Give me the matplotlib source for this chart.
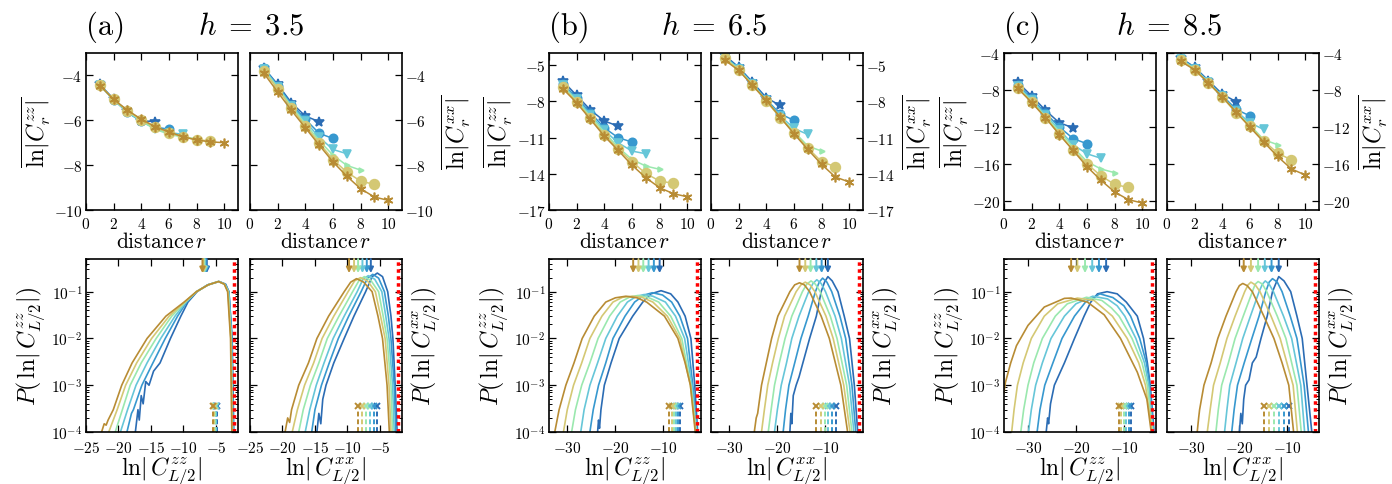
import matplotlib
matplotlib.use("Agg")
import matplotlib.pyplot as plt

plt.rcParams['font.family'] = 'serif'
plt.rcParams['font.serif'] = ['cmr10']
plt.rcParams['mathtext.fontset'] = 'cm'
plt.rcParams['axes.formatter.use_mathtext'] = True

# system sizes L = 10, 12, ..., 20
sizes = [10, 12, 14, 16, 18, 20]
colors = ['#2b6cb4', '#3798cf', '#66c6d8', '#9ae8ae', '#d4c874', '#b88c34']
markers = ['*', 'o', 'v', '>', 'o', (6, 2, 0)]
msizes = [7, 6, 6, 3.5, 7, 7]
distances = [1, 2, 3, 4, 5, 6, 7, 8, 9, 10]
fields = ['3.5', '6.5', '8.5']

# ---- mean log correlations vs distance r (top row) ----
zz_a = [[-4.40, -5.05, -5.60, -6.02, -6.06],
        [-4.42, -5.08, -5.65, -6.05, -6.30, -6.40],
        [-4.43, -5.10, -5.63, -6.05, -6.38, -6.55, -6.62],
        [-4.43, -5.08, -5.60, -6.02, -6.40, -6.62, -6.75, -6.82],
        [-4.43, -5.07, -5.58, -5.98, -6.32, -6.55, -6.73, -6.87, -6.92],
        [-4.45, -5.07, -5.55, -5.95, -6.28, -6.52, -6.73, -6.88, -6.96, -7.00]]
xx_a = [[-3.66, -4.40, -5.22, -5.81, -6.06],
        [-3.66, -4.45, -5.30, -5.95, -6.58, -6.81],
        [-3.70, -4.50, -5.35, -6.05, -6.75, -7.30, -7.49],
        [-3.75, -4.55, -5.40, -6.15, -6.90, -7.55, -8.01, -8.22],
        [-3.80, -4.60, -5.45, -6.25, -7.00, -7.75, -8.31, -8.71, -8.86],
        [-3.90, -4.74, -5.56, -6.33, -7.10, -7.85, -8.49, -9.05, -9.42, -9.57]]
zz_b = [[-6.32, -7.51, -8.72, -9.63, -10.05],
        [-6.54, -7.70, -8.94, -10.19, -11.01, -11.37],
        [-6.65, -7.85, -9.10, -10.40, -11.43, -12.12, -12.34],
        [-6.75, -7.95, -9.25, -10.55, -11.80, -12.81, -13.36, -13.63],
        [-6.85, -8.05, -9.40, -10.75, -11.95, -13.00, -13.97, -14.60, -14.79],
        [-6.96, -8.12, -9.50, -10.88, -12.06, -13.28, -14.32, -15.15, -15.65, -15.90]]
xx_b = [[-4.20, -5.17, -6.41, -7.70, -8.34],
        [-4.30, -5.25, -6.50, -7.85, -9.03, -9.58],
        [-4.35, -5.30, -6.55, -7.90, -9.20, -10.24, -10.74],
        [-4.40, -5.35, -6.60, -7.95, -9.30, -10.50, -11.70, -12.12],
        [-4.45, -5.40, -6.65, -7.98, -9.35, -10.60, -11.85, -13.00, -13.41],
        [-4.59, -5.44, -6.68, -7.92, -9.30, -10.68, -11.98, -13.22, -14.27, -14.68]]
zz_c = [[-7.18, -8.64, -10.20, -11.55, -12.10],
        [-7.43, -8.90, -10.50, -12.00, -13.27, -13.82],
        [-7.60, -9.05, -10.70, -12.30, -13.93, -14.91, -15.39],
        [-7.70, -9.20, -10.85, -12.50, -14.20, -15.75, -16.55, -16.96],
        [-7.80, -9.30, -11.00, -12.75, -14.50, -16.00, -17.28, -18.23, -18.56],
        [-7.83, -9.36, -11.00, -12.83, -14.55, -16.30, -17.76, -19.04, -19.88, -20.24]]
xx_c = [[-4.55, -5.53, -6.99, -8.45, -9.26],
        [-4.60, -5.60, -7.10, -8.60, -10.09, -10.82],
        [-4.65, -5.70, -7.15, -8.70, -10.30, -11.55, -12.28],
        [-4.70, -5.75, -7.20, -8.75, -10.40, -11.80, -13.38, -13.93],
        [-4.75, -5.80, -7.25, -8.80, -10.45, -11.95, -13.50, -14.84, -15.57],
        [-4.91, -5.82, -7.25, -8.74, -10.39, -12.03, -13.64, -15.20, -16.55, -17.21]]

# ---- distributions P(ln|C_{L/2}|) (bottom row) ----
pzz_a_x = [[-17.4, -17.0, -16.8, -16.5, -16.2, -15.8, -15.3, -14.6, -13.6, -12.0, -10.4, -9.3, -7.9, -6.3, -4.5, -3.5, -3.0, -2.5, -2.25],
           [-18.7, -18.0, -17.7, -16.4, -14.7, -12.8, -10.9, -9.5, -8.0, -6.2, -4.6, -3.6, -3.0, -2.55, -2.35],
           [-19.7, -18.6, -17.3, -15.6, -13.5, -11.3, -9.6, -8.0, -6.2, -4.6, -3.6, -3.05, -2.6, -2.4],
           [-20.5, -19.4, -18.2, -16.5, -14.2, -11.8, -9.7, -8.0, -6.2, -4.6, -3.7, -3.1, -2.65, -2.45],
           [-21.5, -20.2, -18.9, -17.2, -14.9, -12.2, -9.8, -8.0, -6.2, -4.6, -3.7, -3.15, -2.7, -2.5],
           [-22.6, -22.2, -21.9, -21.6, -20.8, -19.5, -17.9, -15.6, -12.7, -9.9, -8.0, -6.2, -4.6, -3.7, -3.2, -2.75, -2.55]]
pzz_a_p = [[1e-4, 3e-4, 1.8e-4, 6e-4, 4e-4, 1.2e-3, 1e-3, 2e-3, 3e-3, 1e-2, 3e-2, 6e-2, 0.1, 0.14, 0.165, 0.145, 0.1, 1e-2, 1e-4],
           [1e-4, 2.5e-4, 3e-4, 1e-3, 3e-3, 1e-2, 3e-2, 6e-2, 0.1, 0.14, 0.165, 0.145, 0.1, 1e-2, 1e-4],
           [1e-4, 3e-4, 1e-3, 3e-3, 1e-2, 3e-2, 6e-2, 0.1, 0.14, 0.165, 0.145, 0.1, 1e-2, 1e-4],
           [1e-4, 3e-4, 1e-3, 3e-3, 1e-2, 3e-2, 6e-2, 0.1, 0.14, 0.165, 0.145, 0.1, 1e-2, 1e-4],
           [1e-4, 3e-4, 1e-3, 3e-3, 1e-2, 3e-2, 6e-2, 0.1, 0.14, 0.165, 0.145, 0.1, 1e-2, 1e-4],
           [1e-4, 1.5e-4, 1.4e-4, 1.8e-4, 3e-4, 1e-3, 3e-3, 1e-2, 3e-2, 6e-2, 0.1, 0.14, 0.165, 0.145, 0.1, 1e-2, 1e-4]]

pxx_a_x = [[-14.7, -14.4, -14.1, -13.8, -13.3, -12.1, -10.5, -9.0, -7.2, -6.2, -5.4, -4.6, -3.8, -3.3, -3.0, -2.65, -2.35],
           [-15.5, -15.0, -14.0, -12.8, -11.4, -9.8, -7.9, -6.9, -6.1, -5.2, -4.3, -3.7, -3.3, -2.8, -2.55],
           [-16.5, -15.8, -14.8, -13.6, -12.2, -10.5, -8.5, -7.6, -6.8, -5.8, -4.7, -4.1, -3.6, -3.05, -2.8],
           [-17.5, -16.8, -15.7, -14.4, -13.1, -11.3, -9.2, -8.2, -7.4, -6.4, -5.2, -4.5, -3.9, -3.3, -3.05],
           [-18.5, -17.7, -16.6, -15.2, -13.9, -12.1, -9.9, -8.9, -8.0, -6.9, -5.7, -4.9, -4.2, -3.6, -3.3],
           [-19.6, -19.2, -18.9, -18.6, -17.5, -16.0, -14.7, -12.9, -10.5, -9.5, -8.6, -7.5, -6.2, -5.3, -4.6, -3.9, -3.55]]
pxx_a_p = [[1e-4, 2.5e-4, 1.5e-4, 5e-4, 1e-3, 3e-3, 1e-2, 3e-2, 0.1, 0.21, 0.25, 0.21, 0.1, 3e-2, 1e-2, 1e-3, 1e-4],
           [1e-4, 3e-4, 1e-3, 3e-3, 1e-2, 3e-2, 0.1, 0.195, 0.235, 0.195, 0.1, 3e-2, 1e-2, 1e-3, 1e-4],
           [1e-4, 3e-4, 1e-3, 3e-3, 1e-2, 3e-2, 0.1, 0.185, 0.22, 0.185, 0.1, 3e-2, 1e-2, 1e-3, 1e-4],
           [1e-4, 3e-4, 1e-3, 3e-3, 1e-2, 3e-2, 0.1, 0.175, 0.21, 0.175, 0.1, 3e-2, 1e-2, 1e-3, 1e-4],
           [1e-4, 3e-4, 1e-3, 3e-3, 1e-2, 3e-2, 0.1, 0.17, 0.20, 0.17, 0.1, 3e-2, 1e-2, 1e-3, 1e-4],
           [1e-4, 2e-4, 1.6e-4, 3e-4, 1e-3, 3e-3, 1e-2, 3e-2, 0.1, 0.16, 0.19, 0.16, 0.1, 3e-2, 1e-2, 1e-3, 1e-4]]

pzz_b_x = [[-23.7, -23.5, -23.3, -23.0, -22.3, -20.9, -19.2, -16.4, -14.3, -12.6, -10.5, -8.5, -7.0, -5.5, -4.3, -3.5, -2.9],
           [-25.3, -24.6, -23.5, -22.0, -20.5, -18.0, -16.0, -14.0, -12.3, -10.2, -8.3, -6.6, -5.0, -3.9, -3.0],
           [-27.2, -26.5, -25.3, -23.7, -22.0, -19.6, -17.5, -15.6, -14.0, -12.2, -9.6, -7.5, -5.6, -4.1, -3.1],
           [-29.1, -28.3, -27.0, -25.3, -23.6, -21.2, -19.0, -17.0, -15.3, -13.4, -11.0, -8.5, -6.2, -4.3, -3.2],
           [-30.8, -30.0, -28.7, -27.0, -25.3, -22.8, -20.5, -18.5, -16.5, -14.5, -12.2, -9.2, -6.6, -4.4, -3.3],
           [-32.6, -31.7, -30.3, -28.6, -26.9, -24.4, -22.0, -20.0, -17.8, -15.5, -13.5, -9.8, -7.0, -5.5, -4.4, -3.4]]
pzz_b_p = [[1e-4, 1.8e-4, 1.2e-4, 3e-4, 1e-3, 3e-3, 1e-2, 3e-2, 6e-2, 9e-2, 0.105, 9e-2, 6e-2, 3e-2, 1e-2, 1e-3, 1e-4],
           [1e-4, 3e-4, 1e-3, 3e-3, 1e-2, 3e-2, 6e-2, 8.5e-2, 9.5e-2, 8.5e-2, 6e-2, 3e-2, 1e-2, 1e-3, 1e-4],
           [1e-4, 3e-4, 1e-3, 3e-3, 1e-2, 3e-2, 6e-2, 8e-2, 8.7e-2, 8e-2, 6e-2, 3e-2, 1e-2, 1e-3, 1e-4],
           [1e-4, 3e-4, 1e-3, 3e-3, 1e-2, 3e-2, 6e-2, 7.7e-2, 8.3e-2, 7.7e-2, 6e-2, 3e-2, 1e-2, 1e-3, 1e-4],
           [1e-4, 3e-4, 1e-3, 3e-3, 1e-2, 3e-2, 6e-2, 7.6e-2, 8e-2, 7.6e-2, 6e-2, 3e-2, 1e-2, 1e-3, 1e-4],
           [1e-4, 3e-4, 1e-3, 3e-3, 1e-2, 3e-2, 6e-2, 7.4e-2, 8e-2, 7.4e-2, 6e-2, 3e-2, 1e-2, 3e-3, 1e-3, 1e-4]]

pxx_b_x = [[-17.4, -17.2, -17.0, -16.7, -16.1, -15.5, -14.7, -13.3, -11.9, -10.9, -10.2, -9.5, -8.6, -7.4, -6.1, -5.0, -4.0, -3.3],
           [-18.8, -18.3, -17.6, -16.4, -15.1, -13.6, -12.1, -11.3, -10.6, -9.7, -8.7, -7.0, -5.8, -4.5, -3.7],
           [-20.6, -20.0, -19.2, -18.1, -17.0, -15.5, -13.5, -12.6, -11.8, -10.9, -10.0, -8.0, -6.7, -5.0, -4.1],
           [-21.9, -21.3, -20.6, -19.6, -18.4, -17.0, -14.8, -13.9, -13.0, -12.1, -11.1, -9.0, -7.6, -5.6, -4.5],
           [-23.3, -22.7, -22.0, -21.0, -19.8, -18.5, -16.1, -15.1, -14.2, -13.2, -12.2, -9.9, -8.4, -6.2, -4.9],
           [-24.8, -24.4, -24.1, -23.3, -22.3, -21.2, -19.9, -17.4, -16.4, -15.4, -14.4, -13.3, -10.9, -9.2, -6.8, -5.4]]
pxx_b_p = [[1e-4, 2.5e-4, 1.5e-4, 6e-4, 1e-3, 1.5e-3, 3e-3, 1e-2, 3e-2, 0.1, 0.16, 0.21, 0.17, 0.1, 3e-2, 1e-2, 1e-3, 1e-4],
           [1e-4, 3e-4, 1e-3, 3e-3, 1e-2, 3e-2, 0.1, 0.16, 0.195, 0.16, 0.1, 3e-2, 1e-2, 1e-3, 1e-4],
           [1e-4, 3e-4, 1e-3, 3e-3, 1e-2, 3e-2, 0.1, 0.15, 0.18, 0.15, 0.1, 3e-2, 1e-2, 1e-3, 1e-4],
           [1e-4, 3e-4, 1e-3, 3e-3, 1e-2, 3e-2, 0.1, 0.145, 0.17, 0.145, 0.1, 3e-2, 1e-2, 1e-3, 1e-4],
           [1e-4, 3e-4, 1e-3, 3e-3, 1e-2, 3e-2, 0.1, 0.14, 0.16, 0.14, 0.1, 3e-2, 1e-2, 1e-3, 1e-4],
           [1e-4, 2e-4, 2.5e-4, 1e-3, 3e-3, 1e-2, 3e-2, 0.1, 0.14, 0.155, 0.14, 0.1, 3e-2, 1e-2, 1e-3, 1e-4]]

pzz_c_x = [[-26.2, -25.9, -25.7, -25.3, -24.5, -22.4, -20.3, -18.3, -16.9, -15.5, -13.5, -11.4, -9.5, -7.2, -5.9, -5.1, -4.5, -3.7],
           [-28.1, -27.5, -26.5, -24.8, -22.9, -20.3, -18.0, -15.0, -12.3, -10.0, -8.6, -6.7, -5.3, -4.6, -3.8],
           [-29.9, -29.3, -28.4, -27.0, -25.2, -22.4, -20.0, -16.5, -13.4, -11.4, -9.8, -7.5, -5.7, -4.8, -3.9],
           [-31.5, -30.9, -30.0, -28.8, -27.0, -24.3, -21.8, -17.8, -14.6, -12.6, -11.0, -8.3, -6.2, -5.1, -4.0],
           [-33.4, -32.9, -32.2, -31.0, -29.3, -26.6, -23.8, -19.7, -16.2, -12.4, -9.3, -6.9, -5.5, -4.1],
           [-35.0, -34.7, -33.6, -32.4, -30.0, -26.6, -22.4, -21.0, -17.6, -14.1, -10.7, -7.2, -5.2, -4.3]]
pzz_c_p = [[1e-4, 2e-4, 1.5e-4, 4e-4, 1e-3, 3e-3, 1e-2, 3e-2, 6e-2, 9e-2, 0.1, 9e-2, 6e-2, 3e-2, 1e-2, 3e-3, 1e-3, 1e-4],
           [1e-4, 3e-4, 1e-3, 3e-3, 1e-2, 3e-2, 6e-2, 9e-2, 7.5e-2, 5e-2, 3e-2, 1e-2, 3e-3, 1e-3, 1e-4],
           [1e-4, 3e-4, 1e-3, 3e-3, 1e-2, 3e-2, 5.5e-2, 8e-2, 7e-2, 5e-2, 3e-2, 1e-2, 3e-3, 1e-3, 1e-4],
           [1e-4, 3e-4, 1e-3, 3e-3, 1e-2, 3e-2, 5.5e-2, 7.6e-2, 6.5e-2, 4.5e-2, 3e-2, 1e-2, 3e-3, 1e-3, 1e-4],
           [1e-4, 3e-4, 1e-3, 3e-3, 1e-2, 3e-2, 5.5e-2, 7.3e-2, 6.5e-2, 3e-2, 1e-2, 3e-3, 1e-3, 1e-4],
           [7e-4, 1.15e-3, 3e-3, 7e-3, 1.9e-2, 4.7e-2, 7.2e-2, 7.3e-2, 6e-2, 3.2e-2, 1e-2, 1.9e-3, 5e-4, 1e-4]]

pxx_c_x = [[-19.9, -19.6, -19.3, -19.0, -18.6, -17.9, -17.2, -16.4, -15.4, -14.1, -13.0, -12.3, -11.7, -10.6, -9.2, -7.9, -6.8, -5.8, -4.8],
           [-21.5, -21.0, -20.3, -18.9, -17.3, -15.8, -14.4, -13.7, -13.0, -12.0, -11.0, -9.3, -7.9, -6.4, -5.5],
           [-23.0, -22.5, -21.9, -20.6, -19.2, -17.6, -15.8, -15.1, -14.5, -13.7, -12.8, -10.7, -9.0, -7.1, -6.3],
           [-24.8, -24.3, -23.6, -22.2, -20.8, -19.1, -17.2, -16.6, -16.0, -15.1, -14.2, -12.0, -10.2, -7.9, -7.0],
           [-26.6, -26.0, -25.3, -23.9, -22.5, -20.8, -18.8, -18.1, -17.5, -16.6, -15.6, -13.3, -11.4, -8.7, -7.8],
           [-28.7, -28.4, -28.2, -27.3, -25.8, -24.4, -22.7, -20.6, -19.9, -19.2, -18.3, -17.2, -14.8, -12.7, -11.0, -9.6, -8.6]]
pxx_c_p = [[1e-4, 2.5e-4, 1.5e-4, 5e-4, 1e-3, 1.3e-3, 3e-3, 4e-3, 1e-2, 3e-2, 0.1, 0.15, 0.21, 0.17, 0.1, 3e-2, 1e-2, 1e-3, 1e-4],
           [1e-4, 3e-4, 1e-3, 3e-3, 1e-2, 3e-2, 0.1, 0.16, 0.19, 0.16, 0.1, 3e-2, 1e-2, 1e-3, 1e-4],
           [1e-4, 3e-4, 1e-3, 3e-3, 1e-2, 3e-2, 0.1, 0.145, 0.17, 0.145, 0.1, 3e-2, 1e-2, 1e-3, 1e-4],
           [1e-4, 3e-4, 1e-3, 3e-3, 1e-2, 3e-2, 0.1, 0.145, 0.165, 0.145, 0.1, 3e-2, 1e-2, 1e-3, 1e-4],
           [1e-4, 3e-4, 1e-3, 3e-3, 1e-2, 3e-2, 0.1, 0.14, 0.16, 0.14, 0.1, 3e-2, 1e-2, 1e-3, 1e-4],
           [1e-4, 2e-4, 3e-4, 1e-3, 3e-3, 1e-2, 3e-2, 0.1, 0.135, 0.15, 0.135, 0.1, 3e-2, 1e-2, 3e-3, 1e-3, 1e-4]]

# mean (arrows) and typical (crosses) values of ln|C_{L/2}|
arr_zz_a = [-6.40, -6.55, -6.68, -6.81, -6.94, -7.07]
crs_zz_a = [-4.84, -4.95, -5.05, -5.16, -5.31, -5.47]
arr_xx_a = [-6.40, -7.02, -7.69, -8.36, -8.98, -9.75]
crs_xx_a = [-5.47, -5.98, -6.50, -7.07, -7.69, -8.36]
arr_zz_b = [-10.8, -12.0, -13.1, -14.2, -15.2, -16.3]
crs_zz_b = [-6.5, -6.9, -7.4, -7.8, -8.3, -8.9]
arr_xx_b = [-9.5, -10.8, -11.9, -13.1, -14.2, -15.4]
crs_xx_b = [-7.8, -8.6, -9.4, -10.2, -11.0, -11.9]
arr_zz_c = [-13.7, -15.2, -16.6, -18.1, -19.7, -21.0]
crs_zz_c = [-8.6, -9.0, -9.5, -10.0, -10.6, -11.0]
arr_xx_c = [-11.7, -13.2, -14.6, -16.0, -17.5, -19.0]
crs_xx_c = [-9.6, -10.6, -11.7, -12.7, -13.7, -14.8]
red_lines = [-2.2, -3.0, -4.1]

P_BOT, P_TOP = 1e-4, 0.5
ARROW_TIP = 0.25
CROSS_LEVEL = 3.6e-4

W, H = 1392, 485
fig = plt.figure(figsize=(W / 100, H / 100), dpi=100)


def rect(x0, y0, x1, y1):
    return [x0 / W, 1 - y1 / H, (x1 - x0) / W, (y1 - y0) / H]


def style(ax, xpad=4):
    ax.tick_params(which='both', direction='in', top=True, right=True, labelsize=11, pad=2.5)
    ax.tick_params(axis='x', pad=xpad)
    ax.tick_params(which='major', length=5, width=0.9)
    ax.tick_params(which='minor', length=2.5, width=0.7)
    for s in ax.spines.values():
        s.set_linewidth(1.2)


def draw_mean(ax, data, ylim, yticks, right=False, comp='zz'):
    for vals, c, m, ms in zip(data, colors, markers, msizes):
        ax.plot(distances[:len(vals)], vals, color=c, marker=m, ms=ms, lw=1.1, mew=1.2)
    ax.set_xlim(0, 11)
    ax.set_xticks([0, 2, 4, 6, 8, 10])
    ax.set_ylim(*ylim)
    ax.set_yticks(yticks)
    style(ax)
    ax.set_xlabel(r'distance$\,r$', fontsize=15.5, labelpad=0)
    lab = r'$\overline{\ln|C_r^{%s}|}$' % comp
    if right:
        ax.tick_params(labelleft=False, labelright=True)
        ax.yaxis.set_label_position('right')
        ax.set_ylabel(lab, fontsize=17, labelpad=4)
    else:
        ax.set_ylabel(lab, fontsize=17, labelpad=1)


def draw_dist(ax, xs, ps, arrows, crosses, xlim, xticks, red_x, right=False, comp='zz'):
    for x, p, c, a, k in zip(xs, ps, colors, arrows, crosses):
        ax.plot(x, p, color=c, lw=1.2)
        ax.annotate('', xy=(a, ARROW_TIP), xytext=(a, P_TOP),
                    arrowprops=dict(arrowstyle='-|>', color=c, lw=1.4,
                                    shrinkA=0, shrinkB=0, mutation_scale=8))
        ax.plot([k, k], [P_BOT, CROSS_LEVEL * 0.85], color=c, lw=1.4, ls=(0, (2.5, 1.5)))
        ax.plot(k, CROSS_LEVEL, marker='x', color=c, ms=4, mew=1.4)
    ax.axvline(red_x, color='red', ls=(0, (1, 1)), lw=2.5)
    ax.set_yscale('log')
    ax.set_ylim(P_BOT, P_TOP)
    ax.set_xlim(*xlim)
    ax.set_xticks(xticks)
    style(ax, xpad=6)
    ax.set_xlabel(r'$\ln|\,C^{%s}_{L/2}|$' % comp, fontsize=17, labelpad=-1)
    lab = r'$P(\,\ln|\,C^{%s}_{L/2}|)$' % comp
    if right:
        ax.tick_params(labelleft=False)
        ax.yaxis.set_label_position('right')
        ax.set_ylabel(lab, fontsize=17, labelpad=5)
    else:
        ax.set_ylabel(lab, fontsize=17, labelpad=3)


lefts = [(86, 250), (549, 711), (1004, 1167)]
pw = 152
top_sets = [(zz_a, xx_a, (-10, -3), [-10, -8, -6, -4]),
            (zz_b, xx_b, (-17, -4), [-17, -14, -11, -8, -5]),
            (zz_c, xx_c, (-21, -4), [-20, -16, -12, -8, -4])]
bot_sets = [(pzz_a_x, pzz_a_p, arr_zz_a, crs_zz_a, pxx_a_x, pxx_a_p, arr_xx_a, crs_xx_a,
             (-25, -1.6), [-25, -20, -15, -10, -5]),
            (pzz_b_x, pzz_b_p, arr_zz_b, crs_zz_b, pxx_b_x, pxx_b_p, arr_xx_b, crs_xx_b,
             (-33.8, -2.2), [-30, -20, -10]),
            (pzz_c_x, pzz_c_p, arr_zz_c, crs_zz_c, pxx_c_x, pxx_c_p, arr_xx_c, crs_xx_c,
             (-35, -3.3), [-30, -20, -10])]
tags = ['(a)', '(b)', '(c)']

for i in range(3):
    l1, l2 = lefts[i]
    zz, xx, ylim, yt = top_sets[i]
    ax = fig.add_axes(rect(l1, 54, l1 + pw, 211))
    draw_mean(ax, zz, ylim, yt, comp='zz')
    ax = fig.add_axes(rect(l2, 54, l2 + pw, 211))
    draw_mean(ax, xx, ylim, yt, right=True, comp='xx')

    zx, zp, za, zc, xxs, xp, xa, xc, xl, xt = bot_sets[i]
    ax = fig.add_axes(rect(l1, 260, l1 + pw, 433))
    draw_dist(ax, zx, zp, za, zc, xl, xt, red_lines[i], comp='zz')
    ax = fig.add_axes(rect(l2, 260, l2 + pw, 433))
    draw_dist(ax, xxs, xp, xa, xc, xl, xt, red_lines[i], right=True, comp='xx')

    fig.text(l1 / W, 1 - 27 / H, tags[i], fontsize=22, ha='left', va='center')
    fig.text((l1 + pw + 13) / W, 1 - 27 / H, r'$h \;=\; %s$' % fields[i], fontsize=22,
             ha='center', va='center')

fig.savefig('out.png', dpi=100)
